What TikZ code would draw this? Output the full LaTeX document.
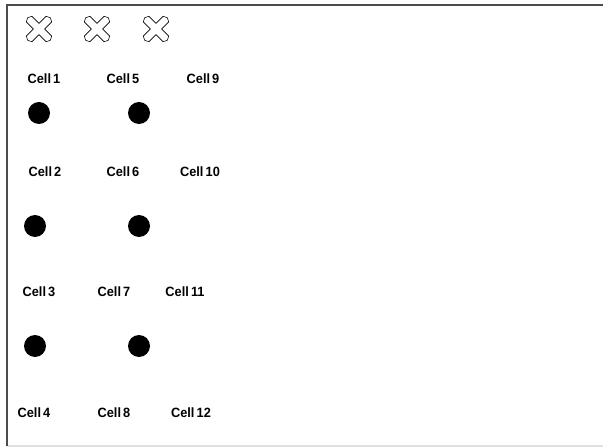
\documentclass[tikz,border=0pt]{standalone}
\usepackage{fontspec}
\setmainfont{Liberation Sans}
\begin{document}
\begin{tikzpicture}[x=1bp,y=-1bp,
  celllabel/.style={font=\fontsize{13.5}{15}\selectfont\bfseries, inner sep=0pt, text=black},
  dot/.style={circle, fill=black, draw=none, minimum size=22bp, inner sep=0pt},
  crossmark/.style={fill=white, draw=black, line width=0.6bp, line join=round},
  frameline/.style={draw=black!70, line width=2bp},
  baseline/.style={draw=black!12, line width=1.5bp}
]
\useasboundingbox (0,0) rectangle (603,447);
% frame
\coordinate (ftl) at (7,5);
\coordinate (ftr) at (603,5);
\coordinate (fbl) at (7,446);
\coordinate (fbr) at (603,446);
\draw[baseline] (fbl) -- (fbr);
\draw[frameline] (ftr) -- (ftl) -- (fbl);
% crosses
\foreach \n/\cx in {x1/39, x2/97, x3/156}{
  \coordinate (\n) at (\cx,29);
  \begin{scope}[shift={(\n)}, rotate=45]
    \draw[crossmark] (4,4) -- (14,4) -- (16,0) -- (14,-4) -- (4,-4)
      -- (4,-14) -- (0,-16) -- (-4,-14) -- (-4,-4)
      -- (-14,-4) -- (-16,0) -- (-14,4) -- (-4,4)
      -- (-4,14) -- (0,16) -- (4,14) -- cycle;
  \end{scope}
}
% labels
\node[celllabel,xscale=0.95] (c1)  at (44,79)  {Cell\hspace{-1.5bp} 1};
\node[celllabel,xscale=0.95] (c5)  at (123,79) {Cell\hspace{-1.5bp} 5};
\node[celllabel,xscale=0.95] (c9)  at (203,79) {Cell\hspace{-1.5bp} 9};
\node[celllabel,xscale=0.95] (c2)  at (45,172) {Cell\hspace{-1.5bp} 2};
\node[celllabel,xscale=0.95] (c6)  at (123,172) {Cell\hspace{-1.5bp} 6};
\node[celllabel,xscale=0.95] (c10) at (200,172) {Cell\hspace{-1.5bp} 10};
\node[celllabel,xscale=0.95] (c3)  at (39,292) {Cell\hspace{-1.5bp} 3};
\node[celllabel,xscale=0.95] (c7)  at (114,292) {Cell\hspace{-1.5bp} 7};
\node[celllabel,xscale=0.95] (c11) at (185,292) {Cell\hspace{-1.5bp} 11};
\node[celllabel,xscale=0.95] (c4)  at (34,413) {Cell\hspace{-1.5bp} 4};
\node[celllabel,xscale=0.95] (c8)  at (114,413) {Cell\hspace{-1.5bp} 8};
\node[celllabel,xscale=0.95] (c12) at (191,413) {Cell\hspace{-1.5bp} 12};
% dots
\node[dot] (d1) at (39,113) {};
\node[dot] (d2) at (139,113) {};
\node[dot] (d3) at (35,226) {};
\node[dot] (d4) at (139,226) {};
\node[dot] (d5) at (35,346) {};
\node[dot] (d6) at (139,346) {};
\end{tikzpicture}
\end{document}
